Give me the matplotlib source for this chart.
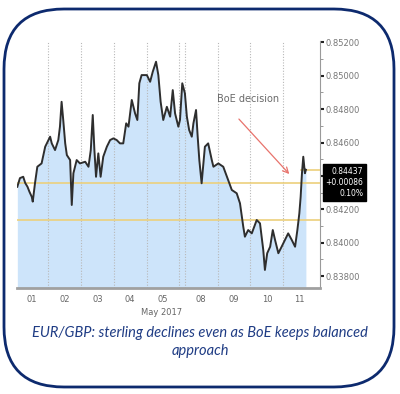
import matplotlib
matplotlib.use("Agg")
from matplotlib import pyplot as plt
from matplotlib.patches import FancyBboxPatch

# EUR/GBP, 1-11 May 2017 (x in trading-day units, day 01 starts at 0)
t = [0.06, 0.14, 0.24, 0.30, 0.37, 0.43, 0.50, 0.53, 0.60, 0.67, 0.80, 0.91, 1.01, 1.06,
     1.11, 1.21, 1.31, 1.36, 1.41, 1.46, 1.52, 1.57, 1.67, 1.72, 1.77, 1.87, 1.97, 2.13,
     2.23, 2.30, 2.36, 2.41, 2.46, 2.53, 2.60, 2.68, 2.79, 2.89, 2.99, 3.09, 3.19, 3.29,
     3.38, 3.45, 3.55, 3.65, 3.72, 3.78, 3.85, 4.01, 4.11, 4.19, 4.29, 4.36, 4.43, 4.51,
     4.62, 4.72, 4.80, 4.87, 4.97, 5.02, 5.09, 5.17, 5.23, 5.30, 5.38, 5.43, 5.51, 5.56,
     5.61, 5.68, 5.78, 5.88, 5.99, 6.04, 6.19, 6.34, 6.49, 6.60, 6.75, 6.85, 6.95, 7.00,
     7.10, 7.21, 7.36, 7.46, 7.56, 7.61, 7.68, 7.77, 7.85, 7.92, 8.02, 8.12, 8.22, 8.32,
     8.43, 8.53, 8.60, 8.66, 8.70, 8.74, 8.78, 8.83, 8.86]
price = [0.84335, 0.84387, 0.84395, 0.84358, 0.84335, 0.84305, 0.84275, 0.84246, 0.84358,
         0.84455, 0.84475, 0.84575, 0.84615, 0.84635, 0.84595, 0.84555, 0.84615, 0.84695,
         0.84844, 0.84735, 0.84595, 0.84525, 0.84495, 0.84226, 0.84416, 0.84495, 0.84475,
         0.84485, 0.84455, 0.84555, 0.84765, 0.84555, 0.84395, 0.84535, 0.84395, 0.84515,
         0.84575, 0.84615, 0.84625, 0.84615, 0.84595, 0.84595, 0.84715, 0.84695, 0.84855,
         0.84775, 0.84735, 0.84955, 0.85004, 0.85004, 0.84964, 0.85024, 0.85084, 0.85004,
         0.84844, 0.84735, 0.84814, 0.84755, 0.84914, 0.84775, 0.84695, 0.84735, 0.84955,
         0.84895, 0.84755, 0.84675, 0.84635, 0.84715, 0.84795, 0.84635, 0.84495, 0.84356,
         0.84575, 0.84595, 0.84495, 0.84455, 0.84475, 0.84455, 0.84375, 0.84316, 0.84296,
         0.84236, 0.84096, 0.84036, 0.84076, 0.84056, 0.84136, 0.84116, 0.83956, 0.83837,
         0.83937, 0.83976, 0.84076, 0.84016, 0.83937, 0.83976, 0.84016, 0.84056, 0.84016,
         0.83976, 0.84076, 0.84176, 0.84275, 0.84416, 0.84515, 0.84416, 0.84437]

day_labels = ["01", "02", "03", "04", "05", "08", "09", "10", "11"]
day_starts = [0.0, 1.0, 2.0, 3.0, 4.0, 5.17, 6.17, 7.17, 8.17]
day_ends = [1.0, 2.0, 3.0, 4.0, 5.0, 6.17, 7.17, 8.17, 9.17]
y_ticks = [0.838, 0.840, 0.842, 0.844, 0.846, 0.848, 0.850, 0.852]
ref_levels = [0.84358, 0.84136]
last_price = 0.84437
last_change = "+0.00086"
last_pct = "0.10%"
caption = "EUR/GBP: sterling declines even as BoE keeps balanced\napproach"

y_lo, y_hi = 0.83727, 0.8521

fig = plt.figure(figsize=(4.0, 3.94), dpi=100)
fig.patch.set_facecolor("white")

# rounded frame round the whole picture
frame = FancyBboxPatch((0.04, 0.07), 3.90, 3.78, boxstyle="round,pad=0,rounding_size=0.6",
                       transform=fig.dpi_scale_trans, facecolor="none",
                       edgecolor="#0d2a6e", linewidth=2.0)
fig.patches.append(frame)

ax = fig.add_axes([0.0425, 0.2683, 0.7575, 0.6284])
ax.set_xlim(0.05, 9.29)
ax.set_ylim(y_lo, y_hi)

ax.fill_between(t, price, y_lo, color="#cde4fa", linewidth=0, zorder=1)
ax.plot(t, price, color="#2e2e2e", linewidth=1.4, zorder=4)

for x in day_ends[:-1] + [5.17]:
    ax.axvline(x, color="#b8b8b8", linestyle=(0, (1, 1.5)), linewidth=0.8, zorder=2)

for lvl in ref_levels:
    ax.axhline(lvl, color="#ecd07c", linewidth=1.2, zorder=3)
ax.plot([8.72, 9.29], [last_price, last_price], color="#ecd07c", linewidth=1.2, zorder=3)

ax.spines["top"].set_visible(False)
ax.spines["left"].set_visible(False)
ax.spines["right"].set_color("#9a9a9a")
ax.spines["bottom"].set_color("#a0a0a0")
ax.spines["bottom"].set_linewidth(2.0)

ax.yaxis.tick_right()
ax.set_yticks(y_ticks)
# the 0.844 label sits under the last-price tag
ax.set_yticklabels(["" if abs(v - 0.844) < 1e-9 else "%.5f" % v for v in y_ticks])
ax.set_yticks([v + 0.001 for v in y_ticks[:-1]], minor=True)
ax.tick_params(axis="y", which="major", direction="out", length=3, width=1.5,
               color="#222222", labelsize=6, labelcolor="#777777", pad=1)
ax.tick_params(axis="y", which="minor", direction="out", length=2, color="#888888")

ax.set_xticks([(a + b) / 2 for a, b in zip(day_starts, day_ends)])
ax.set_xticklabels(day_labels)
ax.tick_params(axis="x", length=0, labelsize=6, labelcolor="#666666", pad=5)
ax.annotate("May 2017", xy=(4.45, y_lo), xytext=(0, -14), textcoords="offset points",
            ha="center", va="top", fontsize=6, color="#666666")

# annotation
ax.text(6.14, 0.84860, "BoE decision", fontsize=7, color="#6a6a6a", va="center", ha="left")
ax.annotate("", xy=(8.41, 0.84399), xytext=(6.76, 0.84753),
            arrowprops=dict(arrowstyle="->", color="#e8736c", linewidth=0.9))

# last-price tag on the right axis
ax.annotate("%.5f\n%s\n%s" % (last_price, last_change, last_pct),
            xy=(1.0, last_price), xycoords=("axes fraction", "data"), xytext=(4, -9),
            textcoords="offset points", ha="left", va="center", multialignment="right",
            fontsize=5.5, color="white", linespacing=1.3, annotation_clip=False,
            bbox=dict(boxstyle="square,pad=0.35", facecolor="black", edgecolor="black"))

fig.text(0.5, 0.132, caption, ha="center", va="center", fontsize=10.5, style="italic",
         family="Lato", color="#1f3c84", linespacing=1.45)

fig.savefig("out.png", dpi=100)
